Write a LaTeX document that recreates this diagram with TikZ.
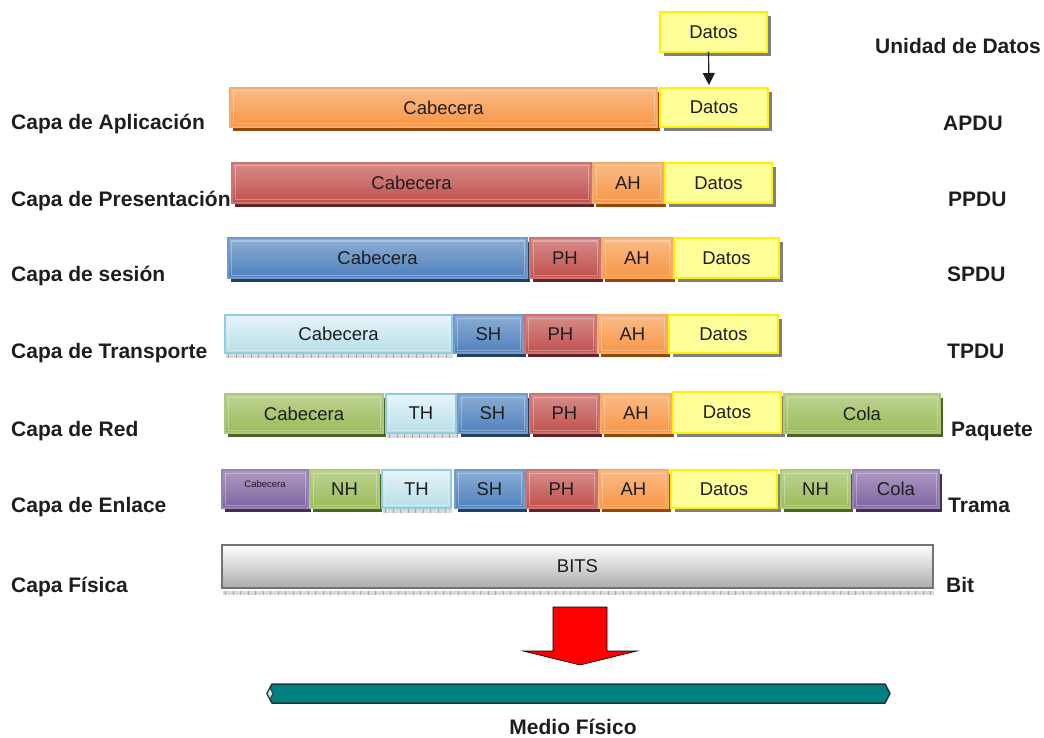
\documentclass[tikz,border=0pt]{standalone}
\usepackage{fontspec}
\setmainfont{Liberation Sans}
\usetikzlibrary{shadows,arrows.meta}

\definecolor{orng}{RGB}{247,150,70}
\definecolor{orngD}{RGB}{152,72,6}
\definecolor{rred}{RGB}{192,80,77}
\definecolor{rredD}{RGB}{99,37,35}
\definecolor{bblue}{RGB}{79,129,189}
\definecolor{bblueD}{RGB}{36,64,97}
\definecolor{ggreen}{RGB}{155,187,89}
\definecolor{ggreenD}{RGB}{79,98,40}
\definecolor{ppurple}{RGB}{128,100,162}
\definecolor{ppurpleD}{RGB}{63,49,81}
\definecolor{lbtop}{RGB}{230,244,248}
\definecolor{lbbot}{RGB}{183,222,232}
\definecolor{lbdraw}{RGB}{147,205,221}
\definecolor{datfill}{RGB}{255,255,153}
\definecolor{bitsdraw}{RGB}{115,115,115}
\definecolor{cable}{RGB}{0,128,128}
\definecolor{cableD}{RGB}{25,55,55}
\definecolor{txt}{RGB}{30,30,30}

\tikzset{
  pdubase/.style={rectangle, inner sep=0pt, outer sep=0pt, text=txt,
    font=\fontsize{18.5}{20}\selectfont},
  innerframe/.style={path picture={\draw[white, opacity=.3, line width=1pt]
    ([shift={(3pt,-3pt)}]path picture bounding box.north west) rectangle
    ([shift={(-3pt,3pt)}]path picture bounding box.south east);}},
  hdr/.style 2 args={pdubase, top color=#1!65!white, middle color=#1,
    bottom color=#1, draw=#1!80!white, line width=1.5pt, innerframe,
    drop shadow={shadow xshift=3pt, shadow yshift=-4pt, fill=#2, opacity=1}},
  datbox/.style={pdubase, fill=datfill, draw=yellow, line width=2.5pt,
    drop shadow={shadow xshift=4pt, shadow yshift=-4pt, fill=gray, opacity=1}},
  ltbox/.style={pdubase, top color=lbtop, bottom color=lbbot, draw=lbdraw,
    line width=1.5pt, innerframe},
  bitsbox/.style={pdubase, top color=white, bottom color=gray!65,
    draw=bitsdraw, line width=2.5pt},
  strip/.style={line width=4pt, draw=gray!30},
  tickmarks/.style={line width=4pt, draw=gray!70, dash pattern=on 1pt off 6.5pt},
  layer/.style={anchor=base west, inner sep=0pt, text=txt,
    font=\fontsize{21}{24}\selectfont\bfseries},
  unitlabel/.style={layer},
}

% style, name, x1, x2, y1, y2, text
\newcommand{\pdubox}[7]{%
  \node[#1, minimum width={(#4-#3)*1pt}, minimum height={(#6-#5)*1pt}]
    (#2) at ({(#3+#4)/2},{(#5+#6)/2}) {#7};}

\begin{document}
\begin{tikzpicture}[x=1pt,y=-1pt]
\useasboundingbox (0,0) rectangle (1044,738);

% data unit handed down from above
\pdubox{datbox}{Dat0}{660}{767}{12}{52}{Datos}

% application layer
\pdubox{hdr={orng}{orngD}}{Cab1}{230}{657}{88}{127}{Cabecera}
\pdubox{datbox}{Dat1}{660}{768}{88}{127}{Datos}

% presentation layer
\pdubox{hdr={rred}{rredD}}{Cab2}{232}{591}{163}{203}{Cabecera}
\pdubox{hdr={orng}{orngD}}{AH2}{593}{663}{163}{203}{AH}
\pdubox{datbox}{Dat2}{665}{772}{163}{203}{Datos}

% session layer
\pdubox{hdr={bblue}{bblueD}}{Cab3}{228}{527}{238}{278}{Cabecera}
\pdubox{hdr={rred}{rredD}}{PH3}{530}{600}{238}{278}{PH}
\pdubox{hdr={orng}{orngD}}{AH3}{602}{672}{238}{278}{AH}
\pdubox{datbox}{Dat3}{674}{779}{238}{278}{Datos}

% transport layer
\pdubox{ltbox}{Cab4}{225}{452}{315}{353}{Cabecera}
\pdubox{hdr={bblue}{bblueD}}{SH4}{454}{523}{315}{353}{SH}
\pdubox{hdr={rred}{rredD}}{PH4}{525}{596}{315}{353}{PH}
\pdubox{hdr={orng}{orngD}}{AH4}{598}{667}{315}{353}{AH}
\pdubox{datbox}{Dat4}{669}{778}{315}{353}{Datos}

% network layer
\pdubox{hdr={ggreen}{ggreenD}}{Cab5}{225}{383}{394}{433}{Cabecera}
\pdubox{ltbox}{TH5}{386}{456}{394}{433}{TH}
\pdubox{hdr={bblue}{bblueD}}{SH5}{458}{527}{394}{433}{SH}
\pdubox{hdr={rred}{rredD}}{PH5}{530}{599}{394}{433}{PH}
\pdubox{hdr={orng}{orngD}}{AH5}{601}{671}{394}{433}{AH}
\pdubox{datbox}{Dat5}{673}{781}{392}{433}{Datos}
\pdubox{hdr={ggreen}{ggreenD}}{Cola5}{784}{940}{394}{433}{Cola}

% data link layer
\pdubox{hdr={ppurple}{ppurpleD}}{Cab6}{222}{308}{470}{508}{}
\node[text=txt, font=\fontsize{9.5}{10}\selectfont, inner sep=0pt]
  (Cab6t) at ([yshift=5pt]Cab6.center) {Cabecera};
\pdubox{hdr={ggreen}{ggreenD}}{NH6}{310}{379}{470}{508}{NH}
\pdubox{ltbox}{TH6}{382}{451}{470}{508}{TH}
\pdubox{hdr={bblue}{bblueD}}{SH6}{455}{524}{470}{508}{SH}
\pdubox{hdr={rred}{rredD}}{PH6}{526}{597}{470}{508}{PH}
\pdubox{hdr={orng}{orngD}}{AH6}{599}{668}{470}{508}{AH}
\pdubox{datbox}{Dat6}{671}{777}{470}{508}{Datos}
\pdubox{hdr={ggreen}{ggreenD}}{NH6b}{781}{850}{470}{508}{NH}
\pdubox{hdr={ppurple}{ppurpleD}}{Cola6}{853}{939}{470}{508}{Cola}

% physical layer
\pdubox{bitsbox}{BITS}{222}{933}{545}{588}{BITS}

% ticked shadows under the pale and grey boxes
\foreach \n in {Cab4,TH5,TH6} {
  \draw[strip] ([shift={(1pt,-3pt)}]\n.south west) -- ([shift={(1pt,-3pt)}]\n.south east);
  \draw[tickmarks] ([shift={(3pt,-3pt)}]\n.south west) -- ([shift={(1pt,-3pt)}]\n.south east);
}
\draw[strip] ([shift={(1pt,-4.5pt)}]BITS.south west) -- ([shift={(1pt,-4.5pt)}]BITS.south east);
\draw[tickmarks] ([shift={(3pt,-4.5pt)}]BITS.south west) -- ([shift={(1pt,-4.5pt)}]BITS.south east);

% data passed down into the application layer
\draw[line width=1.2pt, draw=txt, -{Triangle[length=12pt,width=12pt]}, shorten >=3pt]
  ([xshift=-5pt]Dat0.south) -- ([xshift=-5pt]Dat1.north);

% layer names
\node[layer] (lApp) at (11,130) {Capa de Aplicación};
\node[layer] (lPre) at (11,206.5) {Capa de Presentación};
\node[layer] (lSes) at (11,281.5) {Capa de sesión};
\node[layer] (lTra) at (11,358) {Capa de Transporte};
\node[layer] (lRed) at (11,436) {Capa de Red};
\node[layer] (lEnl) at (11,512) {Capa de Enlace};
\node[layer] (lFis) at (11,592) {Capa Física};

% data unit names
\node[unitlabel] (uTop) at (875,54) {Unidad de Datos};
\node[unitlabel] (uApp) at (943,131) {APDU};
\node[unitlabel] (uPre) at (948,206.5) {PPDU};
\node[unitlabel] (uSes) at (947,281.5) {SPDU};
\node[unitlabel] (uTra) at (947,358) {TPDU};
\node[unitlabel] (uRed) at (951,436) {Paquete};
\node[unitlabel] (uEnl) at (948,512) {Trama};
\node[unitlabel] (uFis) at (946,592) {Bit};

% block arrow towards the medium
\draw[fill=red, draw=black, line width=0.6pt]
  (553,607) -- (607,607) -- (607,651) -- (637,651) -- (580,665)
  -- (523,651) -- (553,651) -- cycle;

% transmission medium
\draw[fill=cable, draw=cableD, line width=1.5pt]
  (272,684) -- (885,684) -- (890,693.5) -- (885,703) -- (272,703)
  -- (267,693.5) -- cycle;
\draw[fill=gray!25, draw=cableD, line width=0.8pt]
  (267,693.5) -- (270,688) -- (273,693.5) -- (270,699) -- cycle;
\node[anchor=base, inner sep=0pt, text=txt, font=\fontsize{21}{24}\selectfont\bfseries]
  (medio) at (573,734) {Medio Físico};
\end{tikzpicture}
\end{document}
